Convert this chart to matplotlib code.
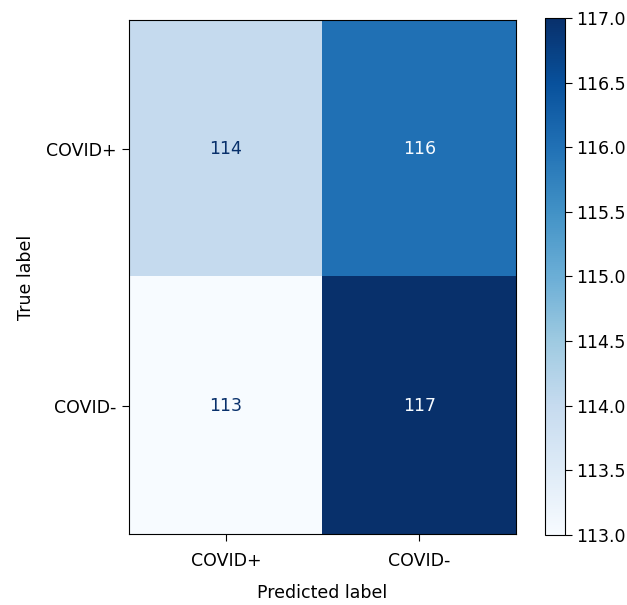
import numpy as np
import matplotlib
matplotlib.use("Agg")
import matplotlib.pyplot as plt

labels = ["COVID+", "COVID-"]
cm = np.array([[114, 116],
               [113, 117]])

plt.rcParams["font.family"] = ["DejaVu Sans"]
plt.rcParams["font.size"] = 12.5

fig = plt.figure(figsize=(6.27, 6.05), dpi=100)
ax = fig.add_axes([0.206, 0.117, 0.617, 0.850])
cax = fig.add_axes([0.869, 0.116, 0.032, 0.854])

cmap = plt.cm.Blues
im = ax.imshow(cm, cmap=cmap, aspect="auto", vmin=cm.min(), vmax=cm.max())
fig.colorbar(im, cax=cax)

# dark text on light cells, light text on dark cells
thresh = (cm.max() + cm.min()) / 2.0
for i in range(cm.shape[0]):
    for j in range(cm.shape[1]):
        color = cmap(0.0) if cm[i, j] >= thresh else cmap(1.0)
        ax.text(j, i, str(cm[i, j]), ha="center", va="center", color=color)

ax.set_xticks(range(len(labels)))
ax.set_xticklabels(labels)
ax.set_yticks(range(len(labels)))
ax.set_yticklabels(labels)
ax.tick_params(axis="x", length=5, pad=8)
ax.tick_params(axis="y", length=5, pad=4)
cax.tick_params(length=5, pad=3)
ax.set_xlabel("Predicted label", labelpad=10)
ax.set_ylabel("True label", labelpad=8)

fig.savefig("out.png", dpi=100)
